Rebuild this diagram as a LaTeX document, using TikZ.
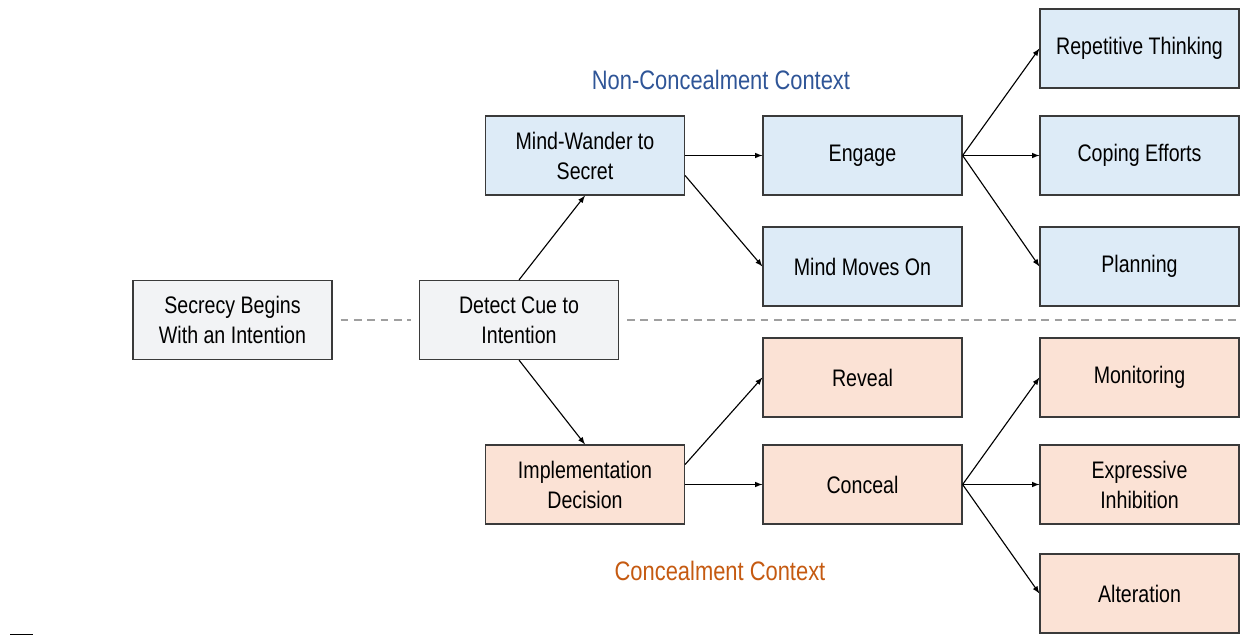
\documentclass[tikz,border=0pt]{standalone}
\usepackage{fontspec}
\setmainfont{Liberation Sans}[FakeStretch=0.82]
\usepackage{tikz}
\usetikzlibrary{calc,arrows}

\definecolor{ncfill}{HTML}{DDEBF7}
\definecolor{cfill}{HTML}{FBE2D5}
\definecolor{gfill}{HTML}{F2F3F5}
\definecolor{ncblue}{HTML}{2F5597}
\definecolor{corange}{HTML}{C55A11}
\definecolor{edge}{HTML}{3A3A3A}

\tikzset{
  box/.style={draw=edge,line width=0.8pt,minimum width=4.975cm,minimum height=1.975cm,
    align=center,inner sep=2pt,font=\fontsize{17}{21.3}\selectfont},
  ncbox/.style={box,fill=ncfill},
  cbox/.style={box,fill=cfill},
  gbox/.style={box,fill=gfill},
  arr/.style={-latex,line width=0.8pt},
  ctx/.style={font=\fontsize{19}{23}\selectfont},
  dashline/.style={gray!75,line width=0.8pt,dash pattern=on 5.5pt off 4pt}
}

\begin{document}
\begin{tikzpicture}[x=0.025cm,y=-0.025cm]
  \useasboundingbox (0,0) rectangle (1241,636);
  % start
  \node[gbox] (sec) at (232.5,320) {Secrecy Begins\\With an Intention};
  \node[gbox] (det) at (519,320) {Detect Cue to\\Intention};
  % non-concealment branch
  \node[ncbox] (mw) at (585,155.5) {Mind-Wander to\\Secret};
  \node[ncbox] (eng) at (862.5,155.5) {Engage};
  \node[ncbox] (mmo) at (862.5,266.5) {Mind Moves On};
  \node[ncbox] (rep) at (1139.5,48.5) {Repetitive Thinking};
  \node[ncbox] (cop) at (1139.5,155.5) {Coping Efforts};
  \node[ncbox] (pla) at (1139.5,266.5) {Planning};
  % concealment branch
  \node[cbox] (imp) at (585,484.5) {Implementation\\Decision};
  \node[cbox] (rev) at (862.5,377.5) {Reveal};
  \node[cbox] (con) at (862.5,484.5) {Conceal};
  \node[cbox] (mon) at (1139.5,377.5) {Monitoring};
  \node[cbox] (exi) at (1139.5,484.5) {Expressive\\Inhibition};
  \node[cbox] (alt) at (1139.5,593.5) {Alteration};
  % context labels
  \node[ctx,text=ncblue] (nclab) at (721,80) {Non-Concealment Context};
  \node[ctx,text=corange] (clab) at (720,571) {Concealment Context};
  % divider
  \coordinate (dend) at (1239,320);
  \draw[dashline] ([xshift=0.2cm]sec.east) -- ([xshift=-0.2cm]det.west);
  \draw[dashline] ([xshift=0.2cm]det.east) -- (dend);
  % arrows
  \draw[arr] (det.north) -- (mw.south);
  \draw[arr] (det.south) -- (imp.north);
  \draw[arr] (mw.east) -- (eng.west);
  \draw[arr] ([yshift=-0.5cm]mw.east) -- (mmo.west);
  \draw[arr] ([yshift=0.5cm]imp.east) -- (rev.west);
  \draw[arr] (imp.east) -- (con.west);
  \draw[arr] (eng.east) -- (rep.west);
  \draw[arr] (eng.east) -- (cop.west);
  \draw[arr] (eng.east) -- (pla.west);
  \draw[arr] (con.east) -- (mon.west);
  \draw[arr] (con.east) -- (exi.west);
  \draw[arr] (con.east) -- (alt.west);
  % rule
  \draw[line width=0.6pt] (10,634.5) -- (33,634.5);
\end{tikzpicture}
\end{document}
